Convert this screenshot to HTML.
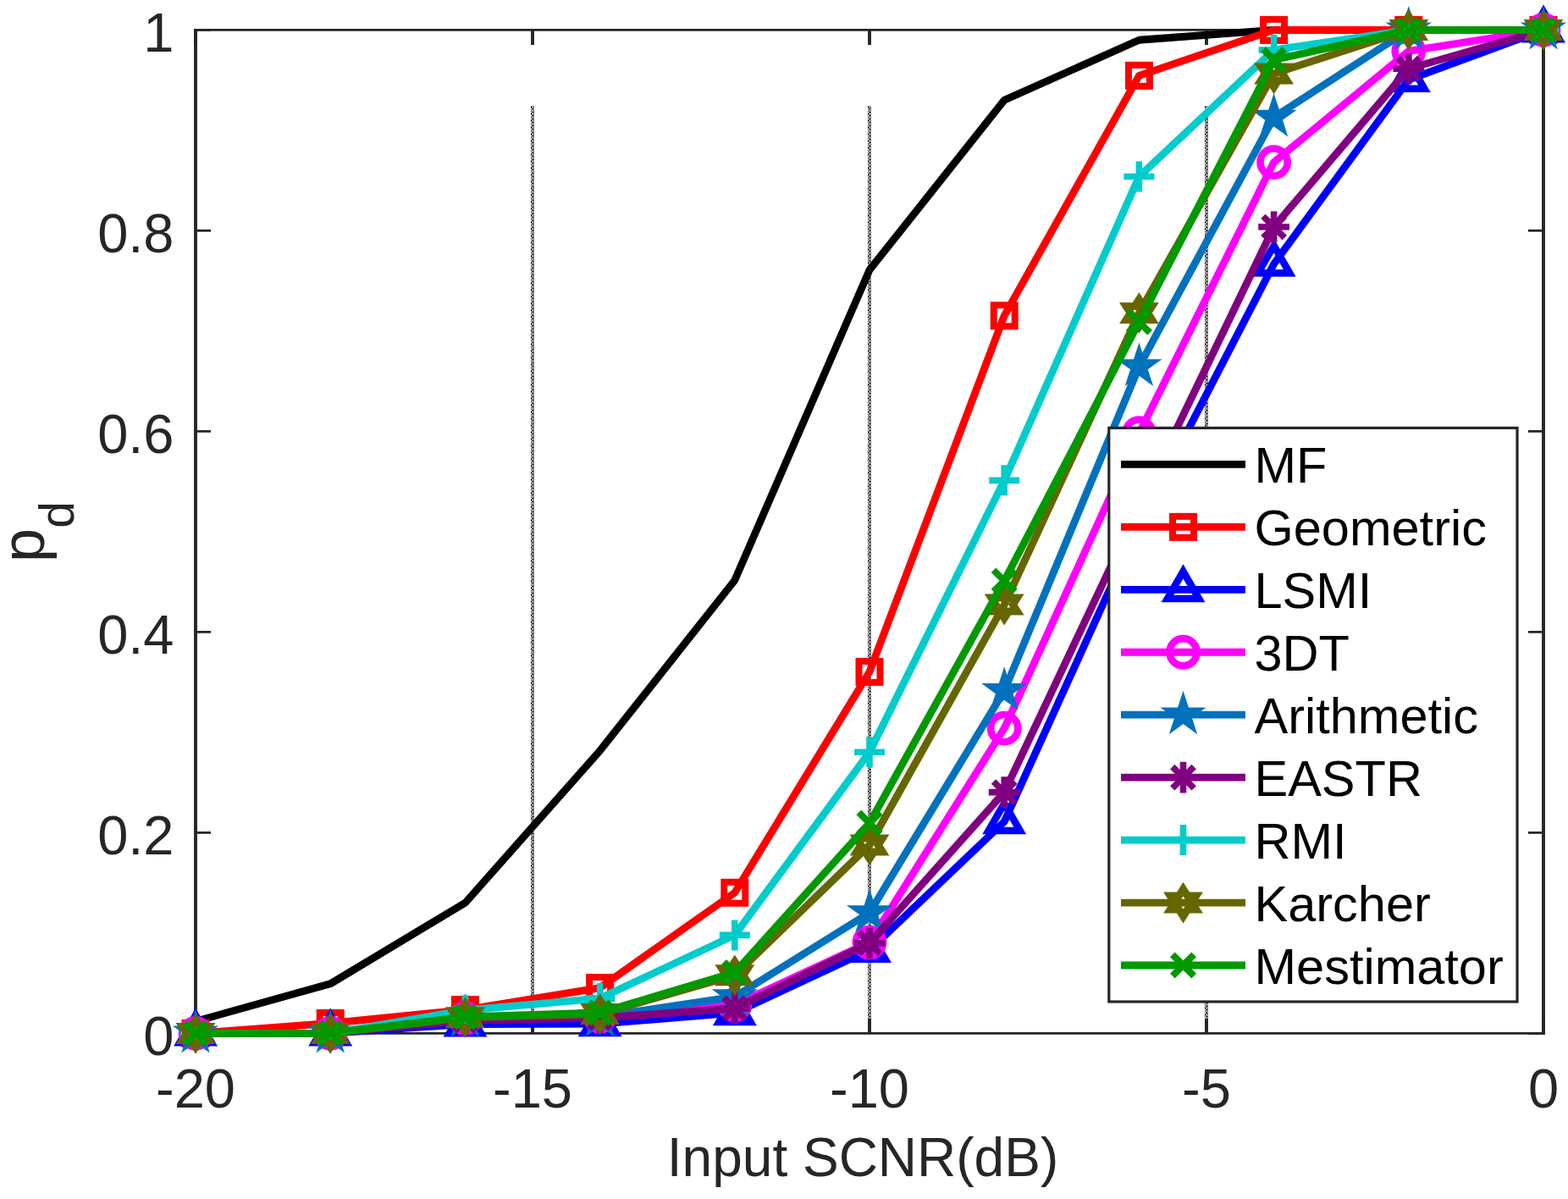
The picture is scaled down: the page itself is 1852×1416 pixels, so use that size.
<!DOCTYPE html>
<html><head><meta charset="utf-8"><title>Pd vs Input SCNR</title>
<style>
html,body{margin:0;padding:0;background:#fff;}
svg{display:block;}
text{font-family:"Liberation Sans",Arial,Helvetica,sans-serif;}
</style></head><body>
<svg width="1852" height="1416" viewBox="0 0 1852 1416">
<defs><pattern id="dots0" x="627" y="0" width="4" height="8" patternUnits="userSpaceOnUse"><g fill="#262626"><rect x="1" y="0" width="1" height="1"/><rect x="2" y="0" width="1" height="1"/><rect x="3" y="0" width="1" height="1"/><rect x="0" y="1" width="1" height="1"/><rect x="2" y="1" width="1" height="1"/><rect x="1" y="2" width="1" height="1"/><rect x="3" y="2" width="1" height="1"/><rect x="0" y="3" width="1" height="1"/><rect x="2" y="3" width="1" height="1"/><rect x="1" y="4" width="1" height="1"/><rect x="2" y="4" width="1" height="1"/><rect x="3" y="4" width="1" height="1"/><rect x="0" y="5" width="1" height="1"/><rect x="2" y="5" width="1" height="1"/><rect x="0" y="6" width="1" height="1"/><rect x="1" y="6" width="1" height="1"/><rect x="3" y="6" width="1" height="1"/><rect x="0" y="7" width="1" height="1"/><rect x="2" y="7" width="1" height="1"/></g></pattern><pattern id="dots1" x="1025" y="0" width="4" height="8" patternUnits="userSpaceOnUse"><g fill="#262626"><rect x="1" y="0" width="1" height="1"/><rect x="2" y="0" width="1" height="1"/><rect x="3" y="0" width="1" height="1"/><rect x="0" y="1" width="1" height="1"/><rect x="2" y="1" width="1" height="1"/><rect x="1" y="2" width="1" height="1"/><rect x="3" y="2" width="1" height="1"/><rect x="0" y="3" width="1" height="1"/><rect x="2" y="3" width="1" height="1"/><rect x="1" y="4" width="1" height="1"/><rect x="2" y="4" width="1" height="1"/><rect x="3" y="4" width="1" height="1"/><rect x="0" y="5" width="1" height="1"/><rect x="2" y="5" width="1" height="1"/><rect x="0" y="6" width="1" height="1"/><rect x="1" y="6" width="1" height="1"/><rect x="3" y="6" width="1" height="1"/><rect x="0" y="7" width="1" height="1"/><rect x="2" y="7" width="1" height="1"/></g></pattern><pattern id="dots2" x="1423" y="0" width="4" height="8" patternUnits="userSpaceOnUse"><g fill="#262626"><rect x="1" y="0" width="1" height="1"/><rect x="2" y="0" width="1" height="1"/><rect x="3" y="0" width="1" height="1"/><rect x="0" y="1" width="1" height="1"/><rect x="2" y="1" width="1" height="1"/><rect x="1" y="2" width="1" height="1"/><rect x="3" y="2" width="1" height="1"/><rect x="0" y="3" width="1" height="1"/><rect x="2" y="3" width="1" height="1"/><rect x="1" y="4" width="1" height="1"/><rect x="2" y="4" width="1" height="1"/><rect x="3" y="4" width="1" height="1"/><rect x="0" y="5" width="1" height="1"/><rect x="2" y="5" width="1" height="1"/><rect x="0" y="6" width="1" height="1"/><rect x="1" y="6" width="1" height="1"/><rect x="3" y="6" width="1" height="1"/><rect x="0" y="7" width="1" height="1"/><rect x="2" y="7" width="1" height="1"/></g></pattern></defs>
<rect width="1852" height="1416" fill="#fff"/>
<rect x="627" y="125" width="4" height="1095" fill="url(#dots0)"/>
<rect x="1025" y="125" width="4" height="1095" fill="url(#dots1)"/>
<rect x="1423" y="125" width="4" height="1095" fill="url(#dots2)"/>
<g stroke="#262626" fill="none">
<path d="M231 34V1221.8 M1823 34V1221.8" stroke-width="3.9"/>
<path d="M229 35.4H1825 M229 1220.4H1825" stroke-width="2.9"/>
<path d="M231 1220.4V1202.9 M231 35.4V52.9 M629 1220.4V1202.9 M629 35.4V52.9 M1027 1220.4V1202.9 M1027 35.4V52.9 M1425 1220.4V1202.9 M1425 35.4V52.9 M1823 1220.4V1202.9 M1823 35.4V52.9" stroke-width="3.9"/>
<path d="M231 1220.4H249 M1823 1220.4H1805 M231 983.4H249 M1823 983.4H1805 M231 746.4H249 M1823 746.4H1805 M231 509.4H249 M1823 509.4H1805 M231 272.4H249 M1823 272.4H1805 M231 35.4H249 M1823 35.4H1805" stroke-width="2.9"/>
</g>
<polyline points="231,1206.18 390.2,1161.86 549.4,1066.35 708.6,886.59 867.8,685.37 1027,318.85 1186.2,118.35 1345.4,47.25 1504.6,35.4 1663.8,35.4 1823,35.4" fill="none" stroke="#000000" stroke-width="8.8" stroke-linejoin="round" stroke-linecap="butt"/>
<polyline points="231,1220.4 390.2,1208.43 549.4,1192.55 708.6,1166.6 867.8,1054.26 1027,793.44 1186.2,372.89 1345.4,89.32 1504.6,35.4 1663.8,35.4 1823,35.4" fill="none" stroke="#ff0000" stroke-width="8.8" stroke-linejoin="round" stroke-linecap="butt"/>
<g><rect x="218.5" y="1207.9" width="25" height="25" fill="none" stroke="#ff0000" stroke-width="8.0"/><rect x="377.7" y="1195.93" width="25" height="25" fill="none" stroke="#ff0000" stroke-width="8.0"/><rect x="536.9" y="1180.05" width="25" height="25" fill="none" stroke="#ff0000" stroke-width="8.0"/><rect x="696.1" y="1154.1" width="25" height="25" fill="none" stroke="#ff0000" stroke-width="8.0"/><rect x="855.3" y="1041.76" width="25" height="25" fill="none" stroke="#ff0000" stroke-width="8.0"/><rect x="1014.5" y="780.94" width="25" height="25" fill="none" stroke="#ff0000" stroke-width="8.0"/><rect x="1173.7" y="360.39" width="25" height="25" fill="none" stroke="#ff0000" stroke-width="8.0"/><rect x="1332.9" y="76.82" width="25" height="25" fill="none" stroke="#ff0000" stroke-width="8.0"/><rect x="1492.1" y="22.9" width="25" height="25" fill="none" stroke="#ff0000" stroke-width="8.0"/><rect x="1651.3" y="22.9" width="25" height="25" fill="none" stroke="#ff0000" stroke-width="8.0"/><rect x="1810.5" y="22.9" width="25" height="25" fill="none" stroke="#ff0000" stroke-width="8.0"/></g>
<polyline points="231,1220.4 390.2,1220.4 549.4,1209.5 708.6,1209.14 867.8,1196.23 1027,1122.05 1186.2,970.37 1345.4,619.61 1504.6,311.74 1663.8,94.06 1823,35.4" fill="none" stroke="#0000ff" stroke-width="8.8" stroke-linejoin="round" stroke-linecap="butt"/>
<g><polygon points="231,1198.9 249.62,1231.15 212.38,1231.15" fill="none" stroke="#0000ff" stroke-width="8.5" stroke-linejoin="miter" stroke-miterlimit="10"/><polygon points="390.2,1198.9 408.82,1231.15 371.58,1231.15" fill="none" stroke="#0000ff" stroke-width="8.5" stroke-linejoin="miter" stroke-miterlimit="10"/><polygon points="549.4,1188 568.02,1220.25 530.78,1220.25" fill="none" stroke="#0000ff" stroke-width="8.5" stroke-linejoin="miter" stroke-miterlimit="10"/><polygon points="708.6,1187.64 727.22,1219.89 689.98,1219.89" fill="none" stroke="#0000ff" stroke-width="8.5" stroke-linejoin="miter" stroke-miterlimit="10"/><polygon points="867.8,1174.73 886.42,1206.98 849.18,1206.98" fill="none" stroke="#0000ff" stroke-width="8.5" stroke-linejoin="miter" stroke-miterlimit="10"/><polygon points="1027,1100.55 1045.62,1132.8 1008.38,1132.8" fill="none" stroke="#0000ff" stroke-width="8.5" stroke-linejoin="miter" stroke-miterlimit="10"/><polygon points="1186.2,948.87 1204.82,981.12 1167.58,981.12" fill="none" stroke="#0000ff" stroke-width="8.5" stroke-linejoin="miter" stroke-miterlimit="10"/><polygon points="1345.4,598.11 1364.02,630.36 1326.78,630.36" fill="none" stroke="#0000ff" stroke-width="8.5" stroke-linejoin="miter" stroke-miterlimit="10"/><polygon points="1504.6,290.24 1523.22,322.49 1485.98,322.49" fill="none" stroke="#0000ff" stroke-width="8.5" stroke-linejoin="miter" stroke-miterlimit="10"/><polygon points="1663.8,72.56 1682.42,104.81 1645.18,104.81" fill="none" stroke="#0000ff" stroke-width="8.5" stroke-linejoin="miter" stroke-miterlimit="10"/><polygon points="1823,13.9 1841.62,46.15 1804.38,46.15" fill="none" stroke="#0000ff" stroke-width="8.5" stroke-linejoin="miter" stroke-miterlimit="10"/></g>
<polyline points="231,1220.4 390.2,1220.4 549.4,1202.62 708.6,1200.26 867.8,1186.75 1027,1113.04 1186.2,860.16 1345.4,511.77 1504.6,191.58 1663.8,60.29 1823,35.4" fill="none" stroke="#ff00ff" stroke-width="8.8" stroke-linejoin="round" stroke-linecap="butt"/>
<g><circle cx="231" cy="1220.4" r="16.1" fill="none" stroke="#ff00ff" stroke-width="8.6"/><circle cx="390.2" cy="1220.4" r="16.1" fill="none" stroke="#ff00ff" stroke-width="8.6"/><circle cx="549.4" cy="1202.62" r="16.1" fill="none" stroke="#ff00ff" stroke-width="8.6"/><circle cx="708.6" cy="1200.26" r="16.1" fill="none" stroke="#ff00ff" stroke-width="8.6"/><circle cx="867.8" cy="1186.75" r="16.1" fill="none" stroke="#ff00ff" stroke-width="8.6"/><circle cx="1027" cy="1113.04" r="16.1" fill="none" stroke="#ff00ff" stroke-width="8.6"/><circle cx="1186.2" cy="860.16" r="16.1" fill="none" stroke="#ff00ff" stroke-width="8.6"/><circle cx="1345.4" cy="511.77" r="16.1" fill="none" stroke="#ff00ff" stroke-width="8.6"/><circle cx="1504.6" cy="191.58" r="16.1" fill="none" stroke="#ff00ff" stroke-width="8.6"/><circle cx="1663.8" cy="60.29" r="16.1" fill="none" stroke="#ff00ff" stroke-width="8.6"/><circle cx="1823" cy="35.4" r="16.1" fill="none" stroke="#ff00ff" stroke-width="8.6"/></g>
<polyline points="231,1220.4 390.2,1220.4 549.4,1201.44 708.6,1200.85 867.8,1177.15 1027,1077.96 1186.2,815.84 1345.4,432.97 1504.6,138.5 1663.8,35.4 1823,35.4" fill="none" stroke="#0072bd" stroke-width="8.8" stroke-linejoin="round" stroke-linecap="butt"/>
<g><polygon points="231,1191.9 237.4,1211.59 258.11,1211.59 241.35,1223.76 247.75,1243.46 231,1231.29 214.25,1243.46 220.65,1223.76 203.89,1211.59 224.6,1211.59" fill="#0072bd"/><polygon points="390.2,1191.9 396.6,1211.59 417.31,1211.59 400.55,1223.76 406.95,1243.46 390.2,1231.29 373.45,1243.46 379.85,1223.76 363.09,1211.59 383.8,1211.59" fill="#0072bd"/><polygon points="549.4,1172.94 555.8,1192.63 576.51,1192.63 559.75,1204.8 566.15,1224.5 549.4,1212.33 532.65,1224.5 539.05,1204.8 522.29,1192.63 543,1192.63" fill="#0072bd"/><polygon points="708.6,1172.35 715,1192.04 735.71,1192.04 718.95,1204.21 725.35,1223.9 708.6,1211.73 691.85,1223.9 698.25,1204.21 681.49,1192.04 702.2,1192.04" fill="#0072bd"/><polygon points="867.8,1148.65 874.2,1168.34 894.91,1168.34 878.15,1180.51 884.55,1200.2 867.8,1188.03 851.05,1200.2 857.45,1180.51 840.69,1168.34 861.4,1168.34" fill="#0072bd"/><polygon points="1027,1049.46 1033.4,1069.16 1054.11,1069.16 1037.35,1081.33 1043.75,1101.02 1027,1088.85 1010.25,1101.02 1016.65,1081.33 999.89,1069.16 1020.6,1069.16" fill="#0072bd"/><polygon points="1186.2,787.34 1192.6,807.03 1213.31,807.03 1196.55,819.21 1202.95,838.9 1186.2,826.73 1169.45,838.9 1175.85,819.21 1159.09,807.03 1179.8,807.03" fill="#0072bd"/><polygon points="1345.4,404.47 1351.8,424.16 1372.51,424.16 1355.75,436.33 1362.15,456.02 1345.4,443.85 1328.65,456.02 1335.05,436.33 1318.29,424.16 1339,424.16" fill="#0072bd"/><polygon points="1504.6,110 1511,129.69 1531.71,129.69 1514.95,141.86 1521.35,161.55 1504.6,149.38 1487.85,161.55 1494.25,141.86 1477.49,129.69 1498.2,129.69" fill="#0072bd"/><polygon points="1663.8,6.9 1670.2,26.59 1690.91,26.59 1674.15,38.76 1680.55,58.46 1663.8,46.29 1647.05,58.46 1653.45,38.76 1636.69,26.59 1657.4,26.59" fill="#0072bd"/><polygon points="1823,6.9 1829.4,26.59 1850.11,26.59 1833.35,38.76 1839.75,58.46 1823,46.29 1806.25,58.46 1812.65,38.76 1795.89,26.59 1816.6,26.59" fill="#0072bd"/></g>
<polyline points="231,1220.4 390.2,1220.4 549.4,1205 708.6,1202.15 867.8,1191.01 1027,1113.75 1186.2,935.64 1345.4,598.28 1504.6,268.02 1663.8,81.14 1823,35.4" fill="none" stroke="#800080" stroke-width="8.8" stroke-linejoin="round" stroke-linecap="butt"/>
<g><path d="M212.6 1220.4H249.4M231 1202V1238.8M218.3 1207.7L243.7 1233.1M218.3 1233.1L243.7 1207.7" stroke="#800080" stroke-width="7.6" fill="none"/><path d="M371.8 1220.4H408.6M390.2 1202V1238.8M377.5 1207.7L402.9 1233.1M377.5 1233.1L402.9 1207.7" stroke="#800080" stroke-width="7.6" fill="none"/><path d="M531 1205H567.8M549.4 1186.6V1223.4M536.7 1192.3L562.1 1217.7M536.7 1217.7L562.1 1192.3" stroke="#800080" stroke-width="7.6" fill="none"/><path d="M690.2 1202.15H727M708.6 1183.75V1220.55M695.9 1189.45L721.3 1214.85M695.9 1214.85L721.3 1189.45" stroke="#800080" stroke-width="7.6" fill="none"/><path d="M849.4 1191.01H886.2M867.8 1172.61V1209.41M855.1 1178.31L880.5 1203.71M855.1 1203.71L880.5 1178.31" stroke="#800080" stroke-width="7.6" fill="none"/><path d="M1008.6 1113.75H1045.4M1027 1095.35V1132.15M1014.3 1101.05L1039.7 1126.45M1014.3 1126.45L1039.7 1101.05" stroke="#800080" stroke-width="7.6" fill="none"/><path d="M1167.8 935.64H1204.6M1186.2 917.24V954.04M1173.5 922.94L1198.9 948.34M1173.5 948.34L1198.9 922.94" stroke="#800080" stroke-width="7.6" fill="none"/><path d="M1327 598.28H1363.8M1345.4 579.88V616.68M1332.7 585.58L1358.1 610.98M1332.7 610.98L1358.1 585.58" stroke="#800080" stroke-width="7.6" fill="none"/><path d="M1486.2 268.02H1523M1504.6 249.62V286.42M1491.9 255.32L1517.3 280.72M1491.9 280.72L1517.3 255.32" stroke="#800080" stroke-width="7.6" fill="none"/><path d="M1645.4 81.14H1682.2M1663.8 62.74V99.54M1651.1 68.44L1676.5 93.84M1651.1 93.84L1676.5 68.44" stroke="#800080" stroke-width="7.6" fill="none"/><path d="M1804.6 35.4H1841.4M1823 17V53.8M1810.3 22.7L1835.7 48.1M1810.3 48.1L1835.7 22.7" stroke="#800080" stroke-width="7.6" fill="none"/></g>
<polyline points="231,1220.4 390.2,1220.4 549.4,1193.14 708.6,1179.04 867.8,1104.39 1027,888.24 1186.2,567.35 1345.4,208.53 1504.6,58.98 1663.8,35.4 1823,35.4" fill="none" stroke="#00cccc" stroke-width="8.8" stroke-linejoin="round" stroke-linecap="butt"/>
<g><path d="M213 1220.4H249M231 1202.4V1238.4" stroke="#00cccc" stroke-width="7.6" fill="none"/><path d="M372.2 1220.4H408.2M390.2 1202.4V1238.4" stroke="#00cccc" stroke-width="7.6" fill="none"/><path d="M531.4 1193.14H567.4M549.4 1175.14V1211.14" stroke="#00cccc" stroke-width="7.6" fill="none"/><path d="M690.6 1179.04H726.6M708.6 1161.04V1197.04" stroke="#00cccc" stroke-width="7.6" fill="none"/><path d="M849.8 1104.39H885.8M867.8 1086.39V1122.39" stroke="#00cccc" stroke-width="7.6" fill="none"/><path d="M1009 888.24H1045M1027 870.24V906.24" stroke="#00cccc" stroke-width="7.6" fill="none"/><path d="M1168.2 567.35H1204.2M1186.2 549.35V585.35" stroke="#00cccc" stroke-width="7.6" fill="none"/><path d="M1327.4 208.53H1363.4M1345.4 190.53V226.53" stroke="#00cccc" stroke-width="7.6" fill="none"/><path d="M1486.6 58.98H1522.6M1504.6 40.98V76.98" stroke="#00cccc" stroke-width="7.6" fill="none"/><path d="M1645.8 35.4H1681.8M1663.8 17.4V53.4" stroke="#00cccc" stroke-width="7.6" fill="none"/><path d="M1805 35.4H1841M1823 17.4V53.4" stroke="#00cccc" stroke-width="7.6" fill="none"/></g>
<polyline points="231,1220.4 390.2,1220.4 549.4,1201.68 708.6,1197.53 867.8,1151.79 1027,997.98 1186.2,714.05 1345.4,369.69 1504.6,86.95 1663.8,35.4 1823,35.4" fill="none" stroke="#666600" stroke-width="8.8" stroke-linejoin="round" stroke-linecap="butt"/>
<g><polygon points="231,1204.4 236.08,1212.4 246.24,1212.4 241.16,1220.4 246.24,1228.4 236.08,1228.4 231,1236.4 225.92,1228.4 215.76,1228.4 220.84,1220.4 215.76,1212.4 225.92,1212.4" fill="none" stroke="#666600" stroke-width="9" stroke-miterlimit="10"/><polygon points="390.2,1204.4 395.28,1212.4 405.44,1212.4 400.36,1220.4 405.44,1228.4 395.28,1228.4 390.2,1236.4 385.12,1228.4 374.96,1228.4 380.04,1220.4 374.96,1212.4 385.12,1212.4" fill="none" stroke="#666600" stroke-width="9" stroke-miterlimit="10"/><polygon points="549.4,1185.68 554.48,1193.68 564.64,1193.68 559.56,1201.68 564.64,1209.68 554.48,1209.68 549.4,1217.68 544.32,1209.68 534.16,1209.68 539.24,1201.68 534.16,1193.68 544.32,1193.68" fill="none" stroke="#666600" stroke-width="9" stroke-miterlimit="10"/><polygon points="708.6,1181.53 713.68,1189.53 723.84,1189.53 718.76,1197.53 723.84,1205.53 713.68,1205.53 708.6,1213.53 703.52,1205.53 693.36,1205.53 698.44,1197.53 693.36,1189.53 703.52,1189.53" fill="none" stroke="#666600" stroke-width="9" stroke-miterlimit="10"/><polygon points="867.8,1135.79 872.88,1143.79 883.04,1143.79 877.96,1151.79 883.04,1159.79 872.88,1159.79 867.8,1167.79 862.72,1159.79 852.56,1159.79 857.64,1151.79 852.56,1143.79 862.72,1143.79" fill="none" stroke="#666600" stroke-width="9" stroke-miterlimit="10"/><polygon points="1027,981.98 1032.08,989.98 1042.24,989.98 1037.16,997.98 1042.24,1005.98 1032.08,1005.98 1027,1013.98 1021.92,1005.98 1011.76,1005.98 1016.84,997.98 1011.76,989.98 1021.92,989.98" fill="none" stroke="#666600" stroke-width="9" stroke-miterlimit="10"/><polygon points="1186.2,698.05 1191.28,706.05 1201.44,706.05 1196.36,714.05 1201.44,722.05 1191.28,722.05 1186.2,730.05 1181.12,722.05 1170.96,722.05 1176.04,714.05 1170.96,706.05 1181.12,706.05" fill="none" stroke="#666600" stroke-width="9" stroke-miterlimit="10"/><polygon points="1345.4,353.69 1350.48,361.69 1360.64,361.69 1355.56,369.69 1360.64,377.69 1350.48,377.69 1345.4,385.69 1340.32,377.69 1330.16,377.69 1335.24,369.69 1330.16,361.69 1340.32,361.69" fill="none" stroke="#666600" stroke-width="9" stroke-miterlimit="10"/><polygon points="1504.6,70.95 1509.68,78.95 1519.84,78.95 1514.76,86.95 1519.84,94.95 1509.68,94.95 1504.6,102.95 1499.52,94.95 1489.36,94.95 1494.44,86.95 1489.36,78.95 1499.52,78.95" fill="none" stroke="#666600" stroke-width="9" stroke-miterlimit="10"/><polygon points="1663.8,19.4 1668.88,27.4 1679.04,27.4 1673.96,35.4 1679.04,43.4 1668.88,43.4 1663.8,51.4 1658.72,43.4 1648.56,43.4 1653.64,35.4 1648.56,27.4 1658.72,27.4" fill="none" stroke="#666600" stroke-width="9" stroke-miterlimit="10"/><polygon points="1823,19.4 1828.08,27.4 1838.24,27.4 1833.16,35.4 1838.24,43.4 1828.08,43.4 1823,51.4 1817.92,43.4 1807.76,43.4 1812.84,35.4 1807.76,27.4 1817.92,27.4" fill="none" stroke="#666600" stroke-width="9" stroke-miterlimit="10"/></g>
<polyline points="231,1220.4 390.2,1220.4 549.4,1200.97 708.6,1195.99 867.8,1148.59 1027,972.14 1186.2,685.97 1345.4,380.24 1504.6,70.83 1663.8,35.4 1823,35.4" fill="none" stroke="#009900" stroke-width="8.8" stroke-linejoin="round" stroke-linecap="butt"/>
<g><path d="M218.3 1207.7L243.7 1233.1M218.3 1233.1L243.7 1207.7" stroke="#009900" stroke-width="8" fill="none"/><path d="M377.5 1207.7L402.9 1233.1M377.5 1233.1L402.9 1207.7" stroke="#009900" stroke-width="8" fill="none"/><path d="M536.7 1188.27L562.1 1213.67M536.7 1213.67L562.1 1188.27" stroke="#009900" stroke-width="8" fill="none"/><path d="M695.9 1183.29L721.3 1208.69M695.9 1208.69L721.3 1183.29" stroke="#009900" stroke-width="8" fill="none"/><path d="M855.1 1135.89L880.5 1161.29M855.1 1161.29L880.5 1135.89" stroke="#009900" stroke-width="8" fill="none"/><path d="M1014.3 959.44L1039.7 984.84M1014.3 984.84L1039.7 959.44" stroke="#009900" stroke-width="8" fill="none"/><path d="M1173.5 673.26L1198.9 698.67M1173.5 698.67L1198.9 673.26" stroke="#009900" stroke-width="8" fill="none"/><path d="M1332.7 367.54L1358.1 392.94M1332.7 392.94L1358.1 367.54" stroke="#009900" stroke-width="8" fill="none"/><path d="M1491.9 58.13L1517.3 83.53M1491.9 83.53L1517.3 58.13" stroke="#009900" stroke-width="8" fill="none"/><path d="M1651.1 22.7L1676.5 48.1M1651.1 48.1L1676.5 22.7" stroke="#009900" stroke-width="8" fill="none"/><path d="M1810.3 22.7L1835.7 48.1M1810.3 48.1L1835.7 22.7" stroke="#009900" stroke-width="8" fill="none"/></g>
<g fill="#262626" font-size="65">
<text x="205.5" y="1246" text-anchor="end">0</text>
<text x="205.5" y="1009" text-anchor="end">0.2</text>
<text x="205.5" y="772" text-anchor="end">0.4</text>
<text x="205.5" y="535" text-anchor="end">0.6</text>
<text x="205.5" y="298" text-anchor="end">0.8</text>
<text x="205.5" y="61" text-anchor="end">1</text>
<text x="231" y="1307.5" text-anchor="middle">-20</text>
<text x="629" y="1307.5" text-anchor="middle">-15</text>
<text x="1027" y="1307.5" text-anchor="middle">-10</text>
<text x="1425" y="1307.5" text-anchor="middle">-5</text>
<text x="1823" y="1307.5" text-anchor="middle">0</text>
</g>
<text x="1019" y="1389" text-anchor="middle" font-size="64" fill="#262626">Input SCNR(dB)</text>
<text transform="translate(51.5,628) rotate(-90)" text-anchor="middle" font-size="72" fill="#262626">p<tspan font-size="57" dy="35.5">d</tspan></text>
<rect x="1309.8" y="505.4" width="482.2" height="677.6" fill="#fff" stroke="#262626" stroke-width="3.2"/>
<path d="M1324 548.4H1471" stroke="#000000" stroke-width="8.8"/><text x="1481.5" y="570" font-size="59.5" fill="#000">MF</text>
<path d="M1324 622.35H1471" stroke="#ff0000" stroke-width="8.8"/><rect x="1385" y="609.85" width="25" height="25" fill="none" stroke="#ff0000" stroke-width="8.0"/><text x="1481.5" y="643.95" font-size="59.5" fill="#000">Geometric</text>
<path d="M1324 696.3H1471" stroke="#0000ff" stroke-width="8.8"/><polygon points="1397.5,674.8 1416.12,707.05 1378.88,707.05" fill="none" stroke="#0000ff" stroke-width="8.5" stroke-linejoin="miter" stroke-miterlimit="10"/><text x="1481.5" y="717.9" font-size="59.5" fill="#000">LSMI</text>
<path d="M1324 770.25H1471" stroke="#ff00ff" stroke-width="8.8"/><circle cx="1397.5" cy="770.25" r="16.1" fill="none" stroke="#ff00ff" stroke-width="8.6"/><text x="1481.5" y="791.85" font-size="59.5" fill="#000">3DT</text>
<path d="M1324 844.2H1471" stroke="#0072bd" stroke-width="8.8"/><polygon points="1397.5,815.7 1403.9,835.39 1424.61,835.39 1407.85,847.56 1414.25,867.26 1397.5,855.09 1380.75,867.26 1387.15,847.56 1370.39,835.39 1391.1,835.39" fill="#0072bd"/><text x="1481.5" y="865.8" font-size="59.5" fill="#000">Arithmetic</text>
<path d="M1324 918.15H1471" stroke="#800080" stroke-width="8.8"/><path d="M1379.1 918.15H1415.9M1397.5 899.75V936.55M1384.8 905.45L1410.2 930.85M1384.8 930.85L1410.2 905.45" stroke="#800080" stroke-width="7.6" fill="none"/><text x="1481.5" y="939.75" font-size="59.5" fill="#000">EASTR</text>
<path d="M1324 992.1H1471" stroke="#00cccc" stroke-width="8.8"/><path d="M1379.5 992.1H1415.5M1397.5 974.1V1010.1" stroke="#00cccc" stroke-width="7.6" fill="none"/><text x="1481.5" y="1013.7" font-size="59.5" fill="#000">RMI</text>
<path d="M1324 1066.05H1471" stroke="#666600" stroke-width="8.8"/><polygon points="1397.5,1050.05 1402.58,1058.05 1412.74,1058.05 1407.66,1066.05 1412.74,1074.05 1402.58,1074.05 1397.5,1082.05 1392.42,1074.05 1382.26,1074.05 1387.34,1066.05 1382.26,1058.05 1392.42,1058.05" fill="none" stroke="#666600" stroke-width="9" stroke-miterlimit="10"/><text x="1481.5" y="1087.65" font-size="59.5" fill="#000">Karcher</text>
<path d="M1324 1140H1471" stroke="#009900" stroke-width="8.8"/><path d="M1384.8 1127.3L1410.2 1152.7M1384.8 1152.7L1410.2 1127.3" stroke="#009900" stroke-width="8" fill="none"/><text x="1481.5" y="1161.6" font-size="59.5" fill="#000">Mestimator</text>
</svg>
</body></html>
